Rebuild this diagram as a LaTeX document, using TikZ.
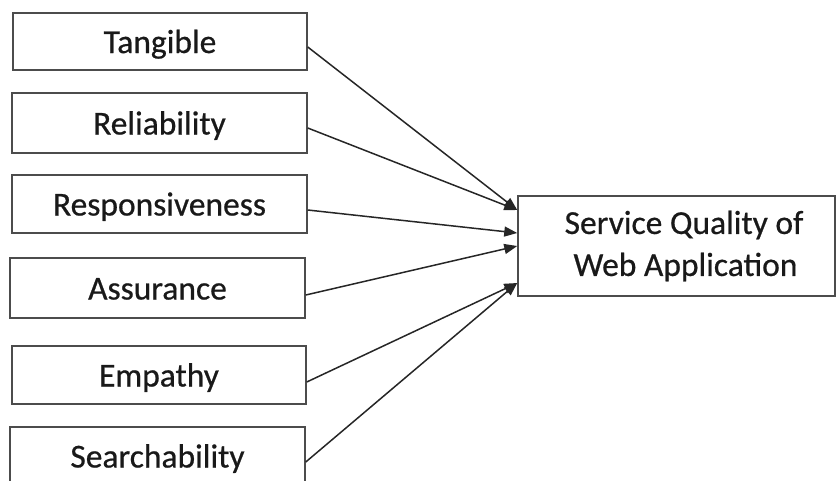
\documentclass[tikz,border=0pt]{standalone}
\usepackage{fontspec}
\setmainfont{Carlito}
\newfontfamily\boxfont[FakeBold=0.6]{Carlito}
\usetikzlibrary{arrows.meta}
\begin{document}
\begin{tikzpicture}[x=1pt,y=-1pt,
  box/.style={draw=black!70, line width=1.5pt, inner sep=0pt, minimum width=295pt, minimum height=58pt,
    font=\boxfont\fontsize{33.5}{45}\selectfont, text=black!90},
  lbl/.style={box, text height=25pt, text depth=2pt},
  conn/.style={draw=black!85, line width=1.5pt, -{Triangle[length=13pt,width=10pt]}}]
\useasboundingbox (0,0) rectangle (840,480);
\clip (0,0) rectangle (840,480);
\node[lbl, minimum width=294pt, minimum height=57pt] (t) at (160,41.5) {Tangible};
\node[lbl, minimum height=60pt] (r) at (159.5,123) {Reliability};
\node[lbl] (p) at (159.5,204) {Responsiveness};
\node[lbl, minimum height=60pt] (a) at (157.5,288) {Assurance};
\node[lbl, minimum width=294pt] (e) at (159,375) {Empathy};
\node[lbl] (s) at (157.5,456) {Searchability};
\node[box, minimum width=317pt, minimum height=100pt, align=center] (q) at (676.5,246)
  {\hspace*{15pt}\raisebox{-3pt}{Service Quality of}\\\hspace*{18pt}Web Application};
\draw[conn] ([yshift=-5.5pt]t.east) -- ([yshift=36pt]q.west);
\draw[conn] ([yshift=-5pt]r.east) -- ([yshift=36pt]q.west);
\draw[conn] ([yshift=-6pt]p.east) -- ([yshift=13pt]q.west);
\draw[conn] ([yshift=-7pt]a.east) -- ([yshift=0pt]q.west);
\draw[conn] ([yshift=-7pt]e.east) -- ([yshift=-37pt]q.west);
\draw[conn] ([yshift=-6pt]s.east) -- ([yshift=-37pt]q.west);
\end{tikzpicture}
\end{document}
